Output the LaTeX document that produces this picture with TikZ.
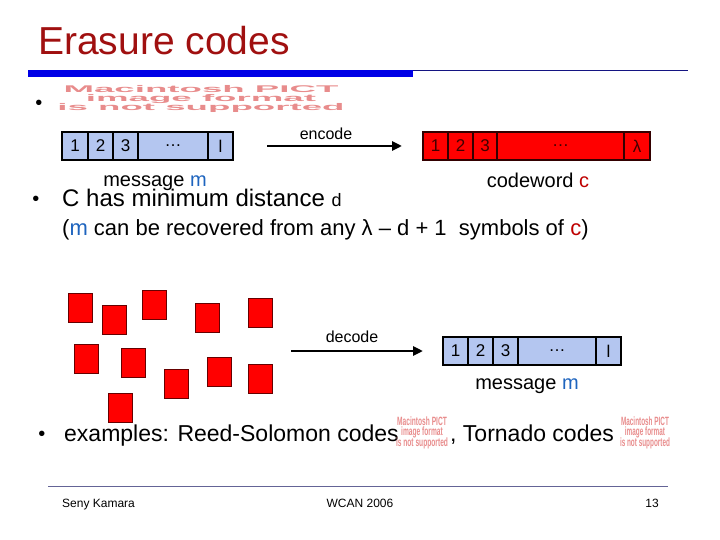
\documentclass[tikz,border=0pt]{standalone}
\usepackage{fontspec}
\setmainfont{Liberation Sans}
\usepackage{graphicx}
\usetikzlibrary{positioning,arrows.meta}
\definecolor{titlered}{RGB}{160,16,16}
\definecolor{barblue}{RGB}{0,0,230}
\definecolor{navy}{RGB}{20,20,130}
\definecolor{msgblue}{RGB}{180,198,240}
\definecolor{mblue}{RGB}{30,100,190}
\definecolor{cred}{RGB}{190,0,0}
\definecolor{pictred}{RGB}{232,140,140}
\definecolor{footline}{RGB}{100,100,150}
\tikzstyle{cell}=[draw=black,line width=1.5pt,minimum height=28pt,inner sep=0pt,outer sep=0pt,font=\fontsize{17}{17}\selectfont]
\tikzstyle{msgcell}=[cell,fill=msgblue]
\tikzstyle{cwcell}=[cell,draw=black!80!red,fill=red,text=black!75!red]
\tikzstyle{piece}=[draw=black!60!red,line width=1pt,fill=red,minimum width=24pt,minimum height=29pt,inner sep=0pt]
\tikzstyle{txt}=[anchor=base west,inner sep=0pt]
\tikzstyle{flow}=[line width=2.5pt,-{Triangle[length=10pt,width=9pt]}]
\tikzstyle{pict}=[text=pictred,inner sep=0pt,font=\bfseries]
\tikzstyle{bullet}=[anchor=base,inner sep=0pt,font=\fontsize{20}{20}\selectfont]

\begin{document}
\begin{tikzpicture}[x=1pt,y=-1pt]
  \useasboundingbox (0,0) rectangle (720,540);
  \node[txt,text=titlered,font=\fontsize{39}{39}\selectfont] (title) at (38,55) {Erasure codes};
  \draw[navy,line width=1pt] (28,71) -- (688,71);
  \fill[barblue] (28,70) rectangle (413,77);

  \node[bullet] (b1) at (39,110) {•};
  \node[pict] (pict1) at (201,99) {\resizebox{287pt}{17pt}{\begin{tabular}{@{}c@{}}Macintosh PICT\\[-3pt] image format\\[-3pt] is not supported\end{tabular}}};

  % message
  \node[msgcell,minimum width=26pt,anchor=west] (m1) at (62,146) {1};
  \node[msgcell,minimum width=25pt,right=0pt of m1] (m2) {2};
  \node[msgcell,minimum width=25pt,right=0pt of m2] (m3) {3};
  \node[msgcell,minimum width=70pt,right=0pt of m3] (m4) {…};
  \node[msgcell,minimum width=25pt,right=0pt of m4] (m5) {l};
  \node[anchor=base,inner sep=0pt,font=\fontsize{20}{20}\selectfont] (mlabel) at (155,187) {message \textcolor{mblue}{m}};

  % codeword
  \node[cwcell,minimum width=25pt,anchor=west] (c1) at (423,146) {1};
  \node[cwcell,minimum width=25pt,right=0pt of c1] (c2) {2};
  \node[cwcell,minimum width=24pt,right=0pt of c2] (c3) {3};
  \node[cwcell,minimum width=127pt,right=0pt of c3] (c4) {…};
  \node[cwcell,minimum width=26pt,right=0pt of c4] (c5) {λ};
  \node[anchor=base,inner sep=0pt,font=\fontsize{20}{20}\selectfont] (clabel) at (538,188) {codeword \textcolor{cred}{c}};

  \draw[flow,shorten <=34pt,shorten >=21pt] (m5.east) -- (c1.west);
  \node[anchor=base,inner sep=0pt,font=\fontsize{16}{16}\selectfont] (enc) at (326,140) {encode};

  \node[bullet] (b2) at (36,206) {•};
  \node[txt,font=\fontsize{24}{24}\selectfont] (dist) at (62,207) {C has minimum distance {\fontsize{18}{18}\selectfont d}};
  \node[txt,font=\fontsize{22}{22}\selectfont] (recov) at (62,236) {(\textcolor{mblue}{m} can be recovered from any λ – d + 1\ \ symbols of \textcolor{cred}{c})};

  % received pieces
  \foreach \px/\py [count=\i] in {80/307.5,114/320,154/305,207/317.5,260.5/312.5,86.5/359,133.5/362.5,176.5/383.5,219/372,260/378.5,120/407.5}
    \node[piece] (p\i) at (\px,\py) {};

  \coordinate (dstart) at (291,351);
  \node[msgcell,minimum width=25pt,anchor=west] (d1) at (443,351) {1};
  \node[msgcell,minimum width=25pt,right=0pt of d1] (d2) {2};
  \node[msgcell,minimum width=25pt,right=0pt of d2] (d3) {3};
  \node[msgcell,minimum width=78pt,right=0pt of d3] (d4) {…};
  \node[msgcell,minimum width=25pt,right=0pt of d4] (d5) {l};
  \node[anchor=base,inner sep=0pt,font=\fontsize{20}{20}\selectfont] (dlabel) at (527,389) {message \textcolor{mblue}{m}};

  \draw[flow,shorten >=20pt] (dstart) -- (d1.west);
  \node[anchor=base,inner sep=0pt,font=\fontsize{16}{16}\selectfont] (dec) at (352,342) {decode};

  \node[bullet] (b3) at (42,440) {•};
  \node[txt,font=\fontsize{23}{23}\selectfont] (ex) at (64,441) {examples: Reed-Solomon codes};
  \node[pict] (pict2) at (422,433) {\resizebox{52pt}{21pt}{\begin{tabular}{@{}c@{}}Macintosh PICT\\[-3pt] image format\\[-3pt] is not supported\end{tabular}}};
  \node[txt,font=\fontsize{23}{23}\selectfont] (ex2) at (450,441) {, Tornado codes};
  \node[pict] (pict3) at (645,433) {\resizebox{50pt}{21pt}{\begin{tabular}{@{}c@{}}Macintosh PICT\\[-3pt] image format\\[-3pt] is not supported\end{tabular}}};

  % footer
  \draw[footline,line width=1pt] (48,486) -- (668,486);
  \node[txt,font=\fontsize{12}{12}\selectfont] (author) at (62,507) {Seny Kamara};
  \node[anchor=base,inner sep=0pt,font=\fontsize{12}{12}\selectfont] (venue) at (360,507) {WCAN 2006};
  \node[anchor=base east,inner sep=0pt,font=\fontsize{12}{12}\selectfont] (page) at (659,507) {13};
\end{tikzpicture}
\end{document}
